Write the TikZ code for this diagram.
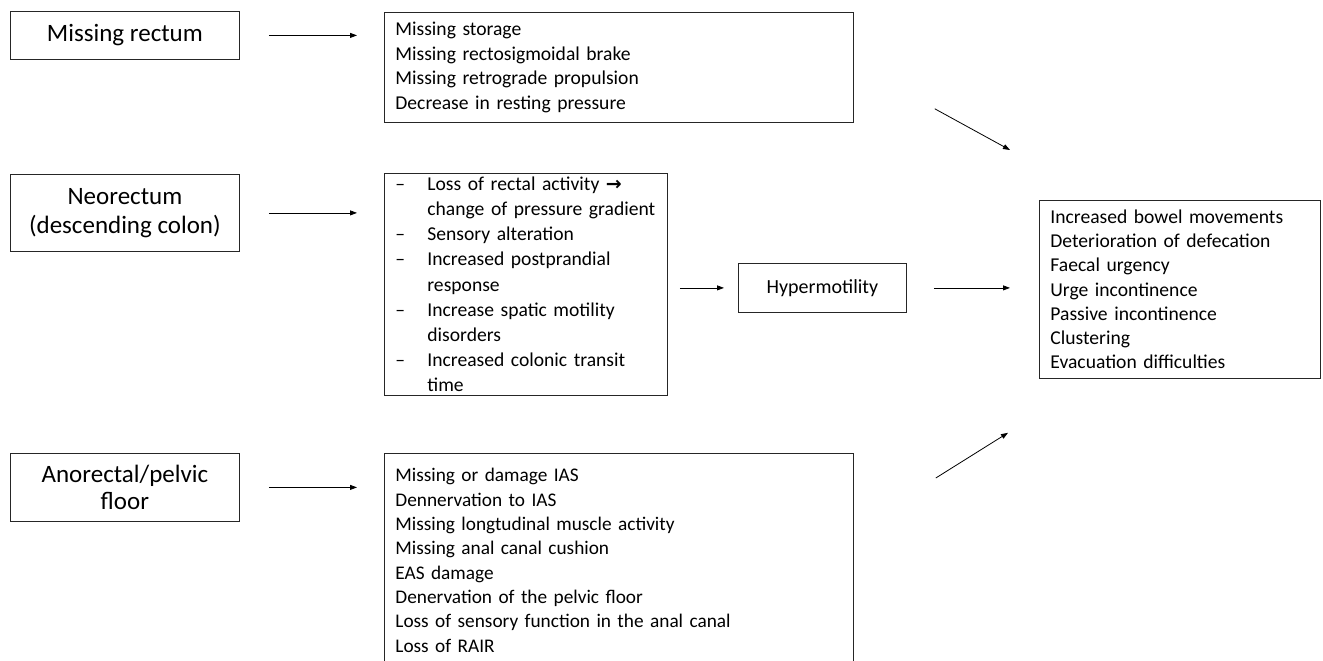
\documentclass[tikz,border=0pt]{standalone}
\usepackage{fontspec}
\setmainfont{Carlito}
\newfontfamily\symfont{DejaVu Sans}
\usetikzlibrary{arrows.meta}
\begin{document}
\begin{tikzpicture}[x=1pt,y=-1pt,
  box/.style={draw=black!85, line width=0.8pt},
  big/.style={font=\fontsize{25}{28.5}\selectfont, align=center, inner sep=0pt},
  list/.style={font=\fontsize{19.6}{24.5}\selectfont, align=left, anchor=north west, inner xsep=11pt, inner ysep=0pt},
  arr/.style={-{Triangle[length=7pt,width=5pt]}, line width=0.8pt}]
\clip (0,0) rectangle (1323,661);
\fill[white] (0,0) rectangle (1323,661);
% left column
\node[box,big,anchor=north west,minimum width=229pt,minimum height=48pt] (mr) at (10,11) {Missing rectum};
\node[box,big,anchor=north west,minimum width=229pt,minimum height=77pt] (neo) at (10,174) {Neorectum\\(descending colon)};
\node[box,big,font=\fontsize{25}{27}\selectfont,anchor=north west,minimum width=229pt,minimum height=68pt] (an) at (10,453) {Anorectal/pelvic\\floor};
% middle column
\node[box,list,text width=447pt,minimum height=110pt] (r1) at (384,12) {Missing storage\\Missing rectosigmoidal brake\\Missing retrograde propulsion\\Decrease in resting pressure};
\node[box,list,font=\fontsize{19.6}{25.2}\selectfont,text width=261pt,minimum height=222pt] (nr) at (384,173) {%
\makebox[32pt][l]{--}Loss of rectal activity {\symfont\bfseries\fontsize{19}{19}\selectfont →}\\
\hspace*{32pt}change of pressure gradient\\
\makebox[32pt][l]{--}Sensory alteration\\
\makebox[32pt][l]{--}Increased postprandial\\
\hspace*{32pt}response\\
\makebox[32pt][l]{--}Increase spatic motility\\
\hspace*{32pt}disorders\\
\makebox[32pt][l]{--}Increased colonic transit\\
\hspace*{32pt}time};
\node[box,list,font=\fontsize{19.3}{24.3}\selectfont,text width=447pt,minimum height=214pt] (af) at (384,453) {Missing or damage IAS\\Dennervation to IAS\\Missing longtudinal muscle activity\\Missing anal canal cushion\\EAS damage\\Denervation of the pelvic floor\\Loss of sensory function in the anal canal\\Loss of RAIR};
% hypermotility
\node[box,font=\fontsize{20}{22}\selectfont,anchor=north west,minimum width=168pt,minimum height=49pt,inner sep=0pt] (hy) at (738,263) {Hypermotility};
% outcomes
\node[box,list,font=\fontsize{19.6}{24.2}\selectfont,text width=259pt,minimum height=178pt] (out) at (1039,200) {Increased bowel movements\\Deterioration of defecation\\Faecal urgency\\Urge incontinence\\Passive incontinence\\Clustering\\Evacuation difficulties};
% connectors
\draw[arr] ([xshift=29pt]mr.east) -- ([xshift=-27pt]mr.east -| r1.west);
\draw[arr] ([xshift=29pt]neo.east) -- ([xshift=-27pt]neo.east -| nr.west);
\draw[arr] ([xshift=29pt]an.east) -- ([xshift=-27pt]an.east -| af.west);
\draw[arr] ([xshift=12pt]nr.east |- hy.west) -- ([xshift=-14pt]hy.west);
\draw[arr] ([xshift=27pt]hy.east) -- ([xshift=-29pt]hy.east -| out.west);
\coordinate (d1s) at ([xshift=81pt,yshift=14pt]r1.south east);
\coordinate (d1e) at ([xshift=-29pt,yshift=50pt]out.north west);
\coordinate (d2s) at ([xshift=82pt,yshift=-25pt]af.north east);
\coordinate (d2e) at ([xshift=-31pt,yshift=-54pt]out.south west);
\draw[arr] (d1s) -- (d1e);
\draw[arr] (d2s) -- (d2e);
\end{tikzpicture}
\end{document}
